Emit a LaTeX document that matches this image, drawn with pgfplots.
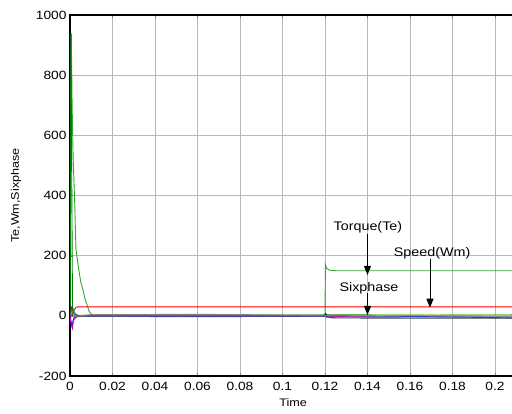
\documentclass[border=0pt]{standalone}
\usepackage{fontspec}
\setmainfont{Liberation Sans}[FakeStretch=1.15]
\usepackage{pgfplots}
\pgfplotsset{compat=1.18}
\usetikzlibrary{arrows.meta}

\definecolor{mblue}{rgb}{0,0,1}
\definecolor{mgreen}{rgb}{0,0.5,0}
\definecolor{lgreen}{rgb}{0.2,0.65,0.2}
\definecolor{mred}{rgb}{1,0,0}
\definecolor{mcyan}{rgb}{0,0.75,0.75}
\definecolor{mmag}{rgb}{0.75,0,0.75}
\definecolor{molive}{rgb}{0.75,0.75,0}
\definecolor{mdark}{rgb}{0.25,0.25,0.25}
\definecolor{mgray}{rgb}{0.5,0.5,0.5}

\begin{document}
\begin{tikzpicture}
\begin{axis}[
  name=ax,
  scale only axis,
  width=446.25bp, height=361bp,
  xmin=0, xmax=0.21, ymin=-200, ymax=1000,
  xtick={0,0.02,0.04,0.06,0.08,0.1,0.12,0.14,0.16,0.18,0.2},
  xticklabels={0,0.02,0.04,0.06,0.08,0.1,0.12,0.14,0.16,0.18,0.2},
  ytick={-200,0,200,400,600,800,1000},
  /pgf/number format/1000 sep={},
  /pgf/number format/assume math mode=true,
  tick label style={font=\fontsize{12}{14}\selectfont},
  xticklabel style={yshift=-3bp},
  label style={font=\fontsize{11}{14}\selectfont},
  xlabel={Time}, ylabel={Te,Wm,Sixphase},
  xlabel style={yshift=-1bp},
  ylabel style={yshift=8bp},
  grid=major, grid style={color=gray!55, line width=0.6bp},
  tick align=inside, major tick length=3bp,
  axis line style={line width=1.1bp},
  every axis plot/.append style={line width=0.9bp},
]
% light green: torque
\addplot[lgreen] coordinates {(0,0) (0.0006,940) (0.001,700) (0.0015,520) (0.0022,380) (0.0028,220) (0.004,160) (0.005,115) (0.0061,86) (0.007,58) (0.008,37) (0.009,15) (0.0104,3) (0.012,1) (0.05,1) (0.1,1) (0.12,1) (0.1202,170) (0.1208,158) (0.122,152) (0.125,150) (0.16,150) (0.21,150)};
% dark green
\addplot[mgreen] coordinates {(0,0) (0.0004,940) (0.0007,600) (0.0012,0) (0.006,2) (0.03,2) (0.06,3) (0.1,2) (0.12,3) (0.14,3) (0.17,2) (0.21,3)};
% red: speed
\addplot[mred] coordinates {(0,0) (0.0005,0) (0.0015,15) (0.0028,28) (0.004,30) (0.21,30)};
% blue
\addplot[mblue] coordinates {(0,0) (0.0005,-20) (0.001,-35) (0.0015,-15) (0.002,-5) (0.004,-2) (0.03,-2) (0.05,-3) (0.1,-2) (0.12,-1) (0.1202,8) (0.121,1) (0.14,0) (0.16,-2) (0.18,-4) (0.2,-6) (0.21,-7)};
% magenta
\addplot[mmag] coordinates {(0,0) (0.0005,-25) (0.0011,-42) (0.0016,-15) (0.003,-3) (0.01,-1) (0.12,-1) (0.13,-3) (0.15,-4) (0.19,-4) (0.21,-4)};
% cyan
\addplot[mcyan] coordinates {(0,0) (0.0008,15) (0.0015,25) (0.0022,10) (0.004,0) (0.12,0) (0.1205,-5) (0.16,-4) (0.21,-4)};
% olive
\addplot[molive] coordinates {(0,0) (0.0008,12) (0.0013,15) (0.002,5) (0.003,0) (0.03,1) (0.14,2) (0.17,3) (0.21,2)};
% dark gray
\addplot[mdark] coordinates {(0,0) (0.0008,28) (0.0012,20) (0.002,5) (0.004,0) (0.12,0) (0.123,-7) (0.16,-8) (0.21,-8)};
% gray
\addplot[mgray] coordinates {(0.004,0) (0.01,4) (0.06,5) (0.1,3) (0.12,2)};

\node[font=\fontsize{12.5}{14}\selectfont] at (axis cs:0.1402,296) {Torque(Te)};
\draw[line width=0.9bp, -{Triangle[length=9bp,width=7bp]}] (axis cs:0.14,272) -- (axis cs:0.14,136);
\node[font=\fontsize{12.5}{14}\selectfont] at (axis cs:0.1704,209) {Speed(Wm)};
\draw[line width=0.9bp, -{Triangle[length=9bp,width=7bp]}] (axis cs:0.1694,190) -- (axis cs:0.1694,27);
\node[font=\fontsize{12.5}{14}\selectfont] at (axis cs:0.1407,93) {Sixphase};
\draw[line width=0.9bp, -{Triangle[length=9bp,width=7bp]}] (axis cs:0.14,76) -- (axis cs:0.14,3);
\end{axis}
\pgfresetboundingbox
\path[use as bounding box] ([xshift=-70bp,yshift=-38bp]ax.south west) rectangle ([xshift=-4.25bp,yshift=15bp]ax.north east);
\end{tikzpicture}
\end{document}
